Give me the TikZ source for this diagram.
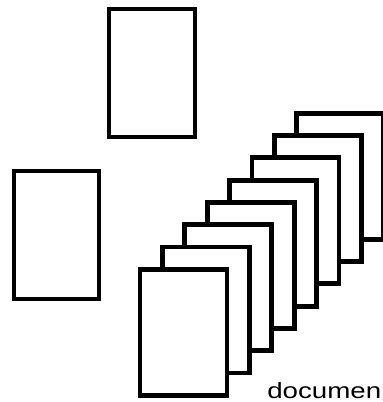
\documentclass[tikz,border=0pt]{standalone}
\usepackage{fontspec}
\setsansfont{Liberation Sans}
\usepackage{tikz}
\usetikzlibrary{positioning}
\tikzset{
  sheet/.style={draw=black,fill=white,line width=4.8pt,minimum width=87pt,minimum height=126pt,inner sep=0pt,outer sep=0pt,anchor=north west},
  tag/.style={font=\sffamily\fontsize{22}{22}\selectfont,inner sep=0pt,anchor=base west,xscale=1.26},
}
\begin{document}
\begin{tikzpicture}[x=1pt,y=-1pt]
\useasboundingbox (0,0) rectangle (383,402);
\clip (0,0) rectangle (383,402);
% two single sheets
\node[sheet, minimum width=86pt, minimum height=128pt] (top) at (109,9) {};
\node[sheet, minimum width=85pt, minimum height=128pt] (left) at (14,171) {};
% the stack, back to front
\foreach \i in {7,...,0}
  \node[sheet] (doc\i) at (140+22.4*\i, 269.3-22.3*\i) {};
\node[tag] (label) at (267,398) {documen};
\end{tikzpicture}
\end{document}
